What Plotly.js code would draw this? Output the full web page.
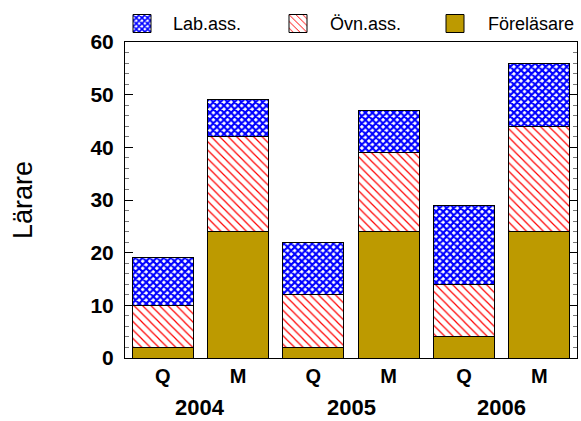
<!DOCTYPE html>
<html><head><meta charset="utf-8">
<script src="https://cdn.plot.ly/plotly-3.0.1.min.js"></script>
<style>body{margin:0;background:#fff}#c{width:581px;height:421px}</style>
</head><body><div id="c"></div>
<script>
const barLabels = ['Q','M','Q','M','Q','M'];
const years = ['2004','2005','2006'];
const forelasare = [2, 24, 2, 24, 4, 24];
const ovnass = [8, 18, 10, 15, 10, 20];
const labass = [9, 7, 10, 8, 15, 12];

const xpos = barLabels.map((_, i) => i);
const line = {color:'#000', width:1};
const traces = [
  {type:'bar', name:'Föreläsare', x:xpos, y:forelasare,
   marker:{color:'#BD9A00', line:line}},
  {type:'bar', name:'Övn.ass.', x:xpos, y:ovnass,
   marker:{color:'#fff', line:line, pattern:{shape:'\\', fgcolor:'#ff0000', bgcolor:'#ffffff', size:6, solidity:0.2}}},
  {type:'bar', name:'Lab.ass.', x:xpos, y:labass,
   marker:{color:'#fff', line:line, pattern:{shape:'x', fgcolor:'#0000ff', bgcolor:'#ffffff', size:5, solidity:0.65}}}
];

const FONT = 'Liberation Sans, Arial, sans-serif';
const annotations = years.map((yr, k) => ({
  text:'<b>'+yr+'</b>', x:2*k+0.5, xref:'x', y:-0.158, yref:'paper',
  yanchor:'middle', showarrow:false, font:{family:FONT, size:22, color:'#000'}
}));
annotations.push({text:'Lärare', textangle:-90, x:-0.2257, xref:'paper', y:0.5, yref:'paper',
  xanchor:'center', yanchor:'middle', showarrow:false,
  font:{family:FONT, size:27, color:'#000'}});

const layout = {
  width:581, height:421,
  margin:{l:125, r:4, t:42, b:63},
  paper_bgcolor:'#fff', plot_bgcolor:'#fff',
  barmode:'stack', bargap:0.19,
  font:{family:FONT, color:'#000'},
  showlegend:true,
  legend:{orientation:'h', x:0.0, xanchor:'left', y:1.0, yanchor:'bottom', traceorder:'reversed',
    font:{size:18}, bgcolor:'rgba(0,0,0,0)'},
  xaxis:{range:[-0.5,5.5], tickvals:xpos, ticktext:barLabels.map(s=>'<b>'+s+'</b>'),
    tickfont:{size:20}, showgrid:false, zeroline:false, showline:true, linecolor:'#000', linewidth:1,
    mirror:true, ticks:'', fixedrange:true},
  yaxis:{range:[0,60], dtick:10, tickfont:{size:21}, tickprefix:'<b>', ticksuffix:'</b>',
    showgrid:false, zeroline:false, showline:true, linecolor:'#000', linewidth:1, mirror:'ticks',
    ticks:'inside', ticklen:8, tickcolor:'#000',
    minor:{dtick:2, ticks:'inside', ticklen:4, tickcolor:'#777', showgrid:false},
    ticklabelstandoff:6},
  annotations:annotations
};

function parseT(s){
  const m = /translate\(\s*([-\d.e]+)[ ,]+([-\d.e]+)\s*\)/.exec(s||'');
  return m ? [parseFloat(m[1]), parseFloat(m[2])] : [0,0];
}
function fixLegend(){
  const root = document.getElementById('c').getBoundingClientRect();
  document.querySelectorAll('.legend [clip-path]').forEach(e => e.removeAttribute('clip-path'));
  const textX = [173, 330, 488];
  const symC = [142, 298, 455];
  const baseY = 30.5, symY = 23.5;
  const items = Array.from(document.querySelectorAll('.legend .traces'));
  items.forEach((g) => {
    const txt = g.querySelector('text.legendtext');
    const name = txt.textContent;
    const i = name.startsWith('Lab') ? 0 : (name.startsWith('Ö') ? 1 : 2);
    const tb = txt.getBoundingClientRect();
    const tr = parseT(g.getAttribute('transform'));
    const dx = textX[i] - (tb.left - root.left);
    const baseline = (tb.bottom - root.top) - 0.212*18;
    const dy = baseY - baseline;
    g.setAttribute('transform', 'translate(' + (tr[0]+dx) + ',' + (tr[1]+dy) + ')');
    g.querySelectorAll('.legendpoints path').forEach(p => {
      p.setAttribute('d', 'M9,9H-9V-9H9Z');
      const pb = p.getBoundingClientRect();
      const cx = (pb.left + pb.right)/2 - root.left;
      const cy = (pb.top + pb.bottom)/2 - root.top;
      const pt = parseT(p.getAttribute('transform'));
      p.setAttribute('transform', 'translate(' + (pt[0] + symC[i]-cx) + ',' + (pt[1] + symY-cy) + ')');
    });
  });
}
Plotly.newPlot('c', traces, layout, {displayModeBar:false, staticPlot:true}).then(fixLegend);
</script></body></html>
